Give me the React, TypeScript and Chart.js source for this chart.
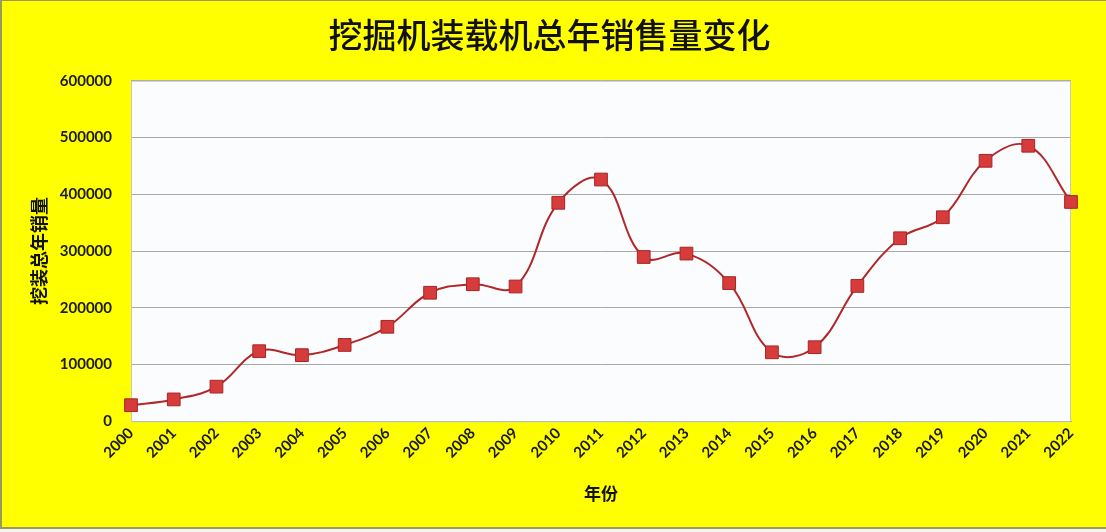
import React, { useEffect, useRef } from 'react';
import { Chart, registerables } from 'chart.js';

Chart.register(...registerables);

const years = ['2000', '2001', '2002', '2003', '2004', '2005', '2006', '2007', '2008', '2009', '2010', '2011', '2012', '2013', '2014', '2015', '2016', '2017', '2018', '2019', '2020', '2021', '2022'];
const sales = [28300, 38500, 61000, 123500, 116500, 134500, 166500, 226500, 241500, 237500, 385000, 426000, 289500, 295500, 243500, 121500, 130500, 238500, 322500, 359500, 459000, 485500, 386500];
const yTicks = [0, 100000, 200000, 300000, 400000, 500000, 600000];
const titleText = '挖掘机装载机总年销售量变化';
const yTitleText = '挖装总年销量';
const xTitleText = '年份';

const bgPlugin = {
  id: 'bgPlugin',
  beforeDraw(chart: any) {
    const { ctx, width, height, chartArea: a } = chart;
    ctx.save();
    ctx.fillStyle = '#f2f2f2';
    ctx.fillRect(0, 0, width, height);
    ctx.fillStyle = '#9a9a60';
    ctx.fillRect(0, 0, width, height - 3);
    ctx.fillStyle = '#FFFF00';
    ctx.fillRect(2, 1, width - 2, height - 6);
    ctx.fillStyle = '#fbfcfe';
    ctx.fillRect(a.left, a.top, a.right - a.left, a.bottom - a.top);
    ctx.restore();
  },
  beforeDatasetsDraw(chart: any) {
    const { ctx, chartArea: a } = chart;
    ctx.save();
    ctx.strokeStyle = '#c8c8c8';
    ctx.lineWidth = 1;
    ctx.strokeRect(a.left + 0.5, a.top + 0.5, a.right - a.left - 1, a.bottom - a.top);
    ctx.restore();
  },
};

export default function App() {
  const ref = useRef<HTMLCanvasElement | null>(null);
  useEffect(() => {
    document.body.style.margin = '0';
    const chart = new Chart(ref.current as HTMLCanvasElement, {
      type: 'line',
      data: {
        labels: years,
        datasets: [
          {
            data: sales,
            borderColor: '#b0282a',
            borderWidth: 2,
            tension: 0.4,
            pointStyle: 'rect',
            pointRadius: 9,
            pointBackgroundColor: '#d63c3c',
            pointBorderColor: '#a82424',
            pointBorderWidth: 1,
            clip: false,
          } as any,
        ],
      },
      options: {
        animation: false,
        responsive: false,
        devicePixelRatio: 1,
        layout: { padding: { left: 28, right: 35, top: 0, bottom: 28 } },
        plugins: {
          legend: { display: false },
          tooltip: { enabled: false },
          title: {
            display: true,
            text: titleText,
            color: '#111',
            font: { family: '"Noto Sans CJK SC", sans-serif', size: 34, weight: '500' },
            padding: { top: 15, bottom: 25 },
          },
        },
        scales: {
          x: {
            offset: false,
            grid: { display: false, drawTicks: false },
            border: { display: true, color: '#a0a0a0' },
            ticks: {
              color: '#1a1a1a',
              font: { family: 'Lato, sans-serif', size: 15, weight: 'bold' },
              minRotation: 45,
              maxRotation: 45,
              padding: 3,
              autoSkip: false,
            },
            title: {
              display: true,
              text: xTitleText,
              color: '#111',
              font: { family: '"Noto Sans CJK SC", sans-serif', size: 17, weight: 'bold' },
              padding: { top: 19, bottom: 0 },
            },
          },
          y: {
            min: 0,
            max: 600000,
            afterBuildTicks(scale: any) {
              scale.ticks = yTicks.map((v) => ({ value: v }));
            },
            afterFit(scale: any) {
              scale.width = 103;
            },
            grid: { color: '#a8a8a8', drawTicks: false },
            border: { display: true, color: '#a0a0a0' },
            ticks: {
              color: '#1a1a1a',
              font: { family: 'Lato, sans-serif', size: 15, weight: 'bold' },
              padding: 19,
              callback: (v: any) => String(v),
            },
            title: {
              display: true,
              text: yTitleText,
              color: '#111',
              font: { family: '"Noto Sans CJK SC", sans-serif', size: 18, weight: 'bold' },
              padding: { top: 0, bottom: 6 },
            },
          },
        },
      },
      plugins: [bgPlugin],
    });
    return () => chart.destroy();
  }, []);
  return <canvas ref={ref} width={1106} height={532} style={{ display: 'block', width: 1106, height: 532 }} />;
}
